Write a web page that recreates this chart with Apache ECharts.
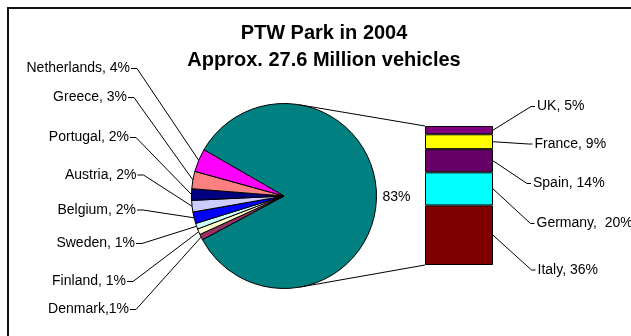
<!DOCTYPE html>
<html>
<head>
<meta charset="utf-8">
<script src="https://cdn.jsdelivr.net/npm/echarts@6/dist/echarts.min.js"></script>
<style>
  html, body { margin: 0; padding: 0; background: #fff; }
  #chart { width: 631px; height: 336px; }
</style>
</head>
<body>
<div id="chart"></div>
<script>
// PTW (powered two-wheeler) park in 2004, share of the total by country.
const titleLines = ['PTW Park in 2004', 'Approx. 27.6 Million vehicles'];

// Smaller markets, shown as slices of the pie (top to bottom on the left side)
const pieCountries = ['Netherlands', 'Greece', 'Portugal', 'Austria', 'Belgium', 'Sweden', 'Finland', 'Denmark'];
const pieShares = [4, 3, 2, 2, 2, 1, 1, 1];
const pieSeparators = [', ', ', ', ', ', ', ', ', ', ', ', ', ', ','];

// Combined slice of the five largest markets, broken down in the column
const mainShare = 83;

// Column breakdown, bottom to top
const barCountries = ['Italy', 'Germany', 'Spain', 'France', 'UK'];
const barShares = [36, 20, 14, 9, 5];
const barSeparators = [', ', ',  ', ', ', ', ', ', '];

// ---- styling and layout ----
const FONT = '"Liberation Sans", Arial, sans-serif';
const COLORS = {
  main: '#008080',
  Netherlands: '#ff00ff', Greece: '#ff8080', Portugal: '#000080', Austria: '#ccccff',
  Belgium: '#0000ff', Sweden: '#ccffff', Finland: '#ffffcc', Denmark: '#993366',
  Italy: '#800000', Germany: '#00ffff', Spain: '#660066', France: '#ffff00', UK: '#800080'
};
const PIE_CX = 284, PIE_CY = 196, PIE_R = 92.5;
const BAR_LEFT = 425, BAR_TOP = 126, BAR_W = 68, BAR_H = 139;

// label anchor: right edge of the text for pie labels, left edge for column labels
const PIE_LABEL_POS = {
  Netherlands: [130, 68.5], Greece: [127, 97.5], Portugal: [129, 137.5], Austria: [136.5, 175],
  Belgium: [136, 210], Sweden: [135, 243.5], Finland: [126, 281.5], Denmark: [129, 309.5]
};
const BAR_LABEL_POS = {
  UK: [537, 106.5], France: [534.5, 144], Spain: [533, 183.5], Germany: [536.5, 223.5], Italy: [537.5, 270]
};

const labelText = { fontFamily: FONT, fontSize: 14, color: '#000' };

// pie data: combined slice first, then the small markets clockwise from bottom-left
const pieData = [{ name: 'main', value: mainShare, itemStyle: { color: COLORS.main }, labelLine: { show: false } }];
for (let i = pieCountries.length - 1; i >= 0; i--) {
  pieData.push({
    name: pieCountries[i],
    value: pieShares[i],
    sep: pieSeparators[i],
    itemStyle: { color: COLORS[pieCountries[i]] }
  });
}
const barTotal = barShares.reduce((a, b) => a + b, 0);

const chart = echarts.init(document.getElementById('chart'), null, { renderer: 'canvas' });

const series = [{
  type: 'pie',
  center: [PIE_CX, PIE_CY],
  radius: PIE_R,
  startAngle: 150,
  clockwise: true,
  silent: true,
  animation: false,
  data: pieData,
  itemStyle: { borderColor: '#000', borderWidth: 1 },
  label: Object.assign({
    show: true,
    position: 'outside',
    formatter: p => p.dataIndex === 0 ? p.value + '%' : p.name + p.data.sep + p.value + '%'
  }, labelText),
  labelLine: { show: true, length: 10, length2: 5, lineStyle: { color: '#000', width: 1 } },
  labelLayout: function (p) {
    if (p.dataIndex === 0) {
      return { x: PIE_CX + PIE_R + 6, y: PIE_CY + 1.5, align: 'left', verticalAlign: 'middle' };
    }
    const name = pieData[p.dataIndex].name;
    const pos = PIE_LABEL_POS[name];
    const start = p.labelLinePoints && p.labelLinePoints[0];
    const out = { x: pos[0], y: pos[1], align: 'right', verticalAlign: 'middle' };
    if (start) out.labelLinePoints = [start, [pos[0] + 7, pos[1]], [pos[0] + 1, pos[1]]];
    return out;
  }
}];

barCountries.forEach((name, i) => {
  series.push({
    type: 'bar',
    name: name,
    stack: 'park',
    data: [barShares[i]],
    barWidth: '100%',
    silent: true,
    animation: false,
    itemStyle: { color: COLORS[name], borderColor: '#000', borderWidth: 1 },
    label: Object.assign({
      show: true,
      position: 'right',
      formatter: p => p.seriesName + barSeparators[i] + p.value + '%'
    }, labelText),
    labelLayout: () => ({ x: BAR_LABEL_POS[name][0], y: BAR_LABEL_POS[name][1], align: 'left', verticalAlign: 'middle' })
  });
});

chart.setOption({
  animation: false,
  backgroundColor: '#fff',
  title: {
    text: titleLines.join('\n'),
    left: 324,
    top: 20,
    padding: 0,
    textAlign: 'center',
    textStyle: { fontFamily: FONT, fontSize: 20, fontWeight: 'bold', color: '#000', lineHeight: 27 }
  },
  grid: { left: BAR_LEFT, top: BAR_TOP, width: BAR_W, height: BAR_H },
  xAxis: { type: 'category', data: ['Top 5'], show: false },
  yAxis: { type: 'value', min: 0, max: barTotal, show: false },
  series: series
});

// ---- connector lines and column leader lines, placed from the axis scales ----
const yPix = v => chart.convertToPixel({ yAxisIndex: 0 }, v);
const barRight = BAR_LEFT + BAR_W;
const graphics = [];

// outer frame
graphics.push({
  type: 'rect', silent: true, z: 0,
  shape: { x: 8, y: 8, width: 700, height: 400 },
  style: { fill: null, stroke: '#111', lineWidth: 2 }
});

// tangent lines from the column corners to the pie
function tangentPoint(px, py, upper) {
  const vx = px - PIE_CX, vy = py - PIE_CY;
  const d = Math.sqrt(vx * vx + vy * vy);
  const phi = Math.atan2(vy, vx);
  const a = Math.acos(PIE_R / d);
  const t = upper ? phi - a : phi + a;
  return [PIE_CX + PIE_R * Math.cos(t), PIE_CY + PIE_R * Math.sin(t)];
}
const topY = yPix(barTotal), botY = yPix(0);
[[topY, true], [botY, false]].forEach(([cy, upper]) => {
  const tp = tangentPoint(BAR_LEFT, cy, upper);
  graphics.push({
    type: 'line', silent: true, z: 10,
    shape: { x1: tp[0], y1: tp[1], x2: BAR_LEFT, y2: cy },
    style: { stroke: '#000', lineWidth: 1 }
  });
});

// leader lines from the middle of each column segment to its label
let cum = 0;
barCountries.forEach((name, i) => {
  const midY = yPix(cum + barShares[i] / 2);
  cum += barShares[i];
  const pos = BAR_LABEL_POS[name];
  graphics.push({
    type: 'polyline', silent: true, z: 10,
    shape: { points: [[barRight, midY], [pos[0] - 6, pos[1]], [pos[0] - 2, pos[1]]] },
    style: { stroke: '#000', lineWidth: 1, fill: null }
  });
});

chart.setOption({ graphic: graphics });
</script>
</body>
</html>
